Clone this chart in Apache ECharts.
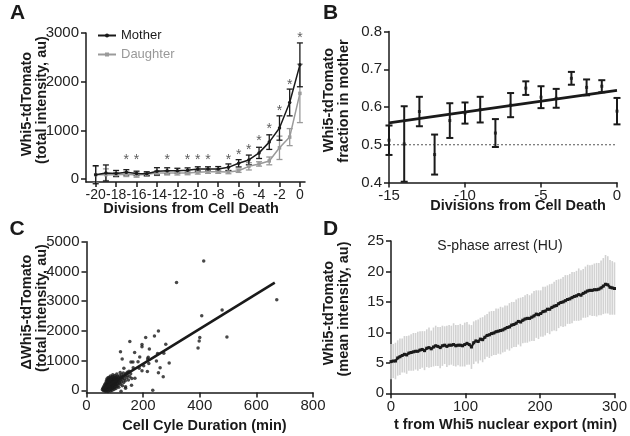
<!DOCTYPE html>
<html>
<head>
<meta charset="utf-8">
<script src="https://cdn.jsdelivr.net/npm/echarts@6/dist/echarts.min.js"></script>
<style>
html,body{margin:0;padding:0;background:#fff;}
#chart{width:630px;height:436px;}
</style>
</head>
<body>
<div id="chart"></div>
<script>
// ---------- Panel A ----------
const divisions = [-20,-19,-18,-17,-16,-15,-14,-13,-12,-11,-10,-9,-8,-7,-6,-5,-4,-3,-2,-1,0];
const motherMean = [90,124,117,138,117,110,159,172,172,180,207,207,207,241,324,393,538,759,1049,1573,2346];
const motherErr  = [186,166,60,55,45,40,75,60,50,50,45,45,50,70,75,100,115,150,250,275,450];
const daughterMean = [90,90,90,97,83,97,124,124,124,124,138,152,152,145,172,262,311,373,642,862,1760];
const daughterErr  = [170,120,45,45,45,35,50,40,40,35,35,35,35,35,35,75,45,80,240,175,600];
const starX = [-17,-16,-13,-11,-10,-9,-7,-6,-5,-4,-3,-2,-1,0];
const starY = [450,450,450,450,450,450,450,550,655,850,1090,1450,1990,2950];
const aTicksX = [-20,-18,-16,-14,-12,-10,-8,-6,-4,-2,0];
const aTicksY = [0,1000,2000,3000];

// ---------- Panel B ----------
const bDivisions = [-15,-14,-13,-12,-11,-10,-9,-8,-7,-6,-5,-4,-3,-2,-1,0];
const bFraction  = [0.512,0.502,0.588,0.474,0.564,0.584,0.593,0.531,0.605,0.650,0.626,0.623,0.676,0.652,0.655,0.589];
const bErr       = [0.039,0.100,0.039,0.053,0.046,0.028,0.034,0.037,0.032,0.018,0.029,0.025,0.017,0.021,0.016,0.035];
const bFitX = [-15, 0];
const bFitY = [0.558, 0.644];
const bRefY = 0.5;

// ---------- Panel C ----------
const cycleDuration = [
 414,318,672,479,407,496,400,398,394,254,240,209,153,196,196,222,280,120,170,126,188,157,164,273,251,247,292,216,220,260,254,271,215,196,171,234,138,159,132,144,165,202,186,182,218,
 56,58,60,60,62,63,64,65,65,66,67,68,68,69,70,70,
 71,71,72,72,73,73,74,74,75,75,76,76,77,77,78,78,79,79,80,80,
 80,81,82,82,83,83,84,84,85,85,86,86,87,87,88,88,89,89,90,90,
 91,91,92,92,93,93,94,94,95,95,96,96,97,97,98,98,99,99,100,100,
 101,102,102,103,104,104,105,105,106,107,108,108,109,110,110,111,112,113,114,114,
 116,117,118,119,120,121,122,123,124,126,127,128,130,131,133,135,137,138,139,142,145,148,150,153,156,160];
const deltaWhi5 = [
 4350,3630,3050,2700,2510,1795,1780,1660,1425,1995,1830,1775,1640,1545,1470,1390,1550,1300,1270,1055,1120,950,955,1245,1240,985,920,1055,905,760,595,460,630,660,405,0,70,170,740,605,760,830,740,960,1110,
 20,60,-10,110,40,150,0,80,200,-30,120,250,30,170,310,60,
 -20,220,100,380,160,280,20,340,90,200,420,-40,140,300,50,250,360,180,0,120,
 440,270,70,330,190,400,-20,230,110,480,300,40,160,370,250,80,420,200,-10,310,
 130,460,240,360,60,520,180,290,400,100,220,330,30,450,160,270,380,90,200,500,
 310,140,420,250,60,360,190,460,290,550,120,390,230,330,470,180,280,420,100,360,
 250,490,320,600,200,400,-30,290,520,360,150,440,580,260,380,480,320,120,560,420,500,350,640,460,560,400];
const cFitX = [55, 665];
const cFitY = [40, 3620];
const cTicksY = [0,1000,2000,3000,4000,5000];

// ---------- Panel D ----------
const tMin = [0,3,6,9,12,15,18,21,24,27,30,33,36,39,42,45,48,51,54,57,60,63,66,69,72,75,78,81,84,87,90,93,96,99,102,105,108,111,114,117,120,123,126,129,132,135,138,141,144,147,150,153,156,159,162,165,168,171,174,177,180,183,186,189,192,195,198,201,204,207,210,213,216,219,222,225,228,231,234,237,240,243,246,249,252,255,258,261,264,267,270,273,276,279,282,285,288,291,294,297,300];
const meanWhi5 = [
 5.2,5.3,5.3,5.8,6.0,6.2,6.4,6.3,6.6,6.7,
 6.8,6.9,6.9,7.1,7.2,7.0,7.4,7.5,7.3,7.6,
 7.8,7.7,7.5,7.8,7.9,7.7,7.9,7.9,8.0,7.8,
 7.9,7.9,7.8,8.0,8.2,8.0,7.6,8.3,8.6,8.5,
 8.9,8.8,9.2,9.5,9.6,9.8,9.9,10.1,10.2,10.3,
 10.4,10.6,10.8,10.9,11.2,11.3,11.5,11.8,11.7,12.0,
 12.2,12.3,12.3,12.5,12.7,13.0,12.9,13.1,13.4,13.5,
 13.8,13.8,14.1,14.3,14.4,14.7,14.9,15.0,15.2,15.4,
 15.5,15.7,15.9,16.0,16.2,16.1,16.4,16.6,16.8,16.9,
 16.9,17.0,17.0,17.1,17.3,17.6,17.9,17.8,17.4,17.3,
 17.2];
const sdWhi5 = [
 2.9,2.8,3.0,2.9,3.0,2.8,3.0,3.1,2.9,3.0,3.1,
 3.0,3.2,3.1,3.0,3.2,3.1,3.3,3.0,3.2,3.3,
 3.2,3.4,3.3,3.1,3.4,3.3,3.2,3.5,3.4,3.3,
 3.5,3.4,3.6,3.5,3.3,3.6,3.5,3.4,3.6,3.5,
 3.7,3.6,3.5,3.8,3.7,3.6,3.8,3.7,3.9,3.7,
 3.8,3.6,3.9,3.8,3.7,3.9,3.8,4.0,3.8,3.9,
 4.0,3.8,3.9,4.1,3.9,4.0,3.8,4.1,4.0,3.9,
 4.1,3.9,4.0,4.2,4.0,3.9,4.1,4.2,4.0,4.1,
 4.2,4.0,4.1,4.3,4.1,4.0,4.2,4.3,4.1,4.2,
 4.3,4.4,4.3,4.5,4.6,4.8,4.7,4.5,4.4,4.3];

// ---------- helpers ----------
const FONT = "'Liberation Sans', Arial, Helvetica, sans-serif";
const INK = '#1a1a1a';

function errBarSeries(name, xi, yi, data, color, width, cap) {
  return {
    type: 'custom', name: name, xAxisIndex: xi, yAxisIndex: yi, clip: false, z: 3,
    data: data,
    encode: { x: 0, y: [1, 2] },
    renderItem: function (params, api) {
      const x = api.value(0), lo = api.value(1), hi = api.value(2);
      const p1 = api.coord([x, lo]), p2 = api.coord([x, hi]);
      const kids = [{ type: 'line', shape: { x1: p1[0], y1: p1[1], x2: p2[0], y2: p2[1] }, style: { stroke: color, lineWidth: width } }];
      if (cap > 0) {
        kids.push({ type: 'line', shape: { x1: p1[0]-cap, y1: p1[1], x2: p1[0]+cap, y2: p1[1] }, style: { stroke: color, lineWidth: width } });
        kids.push({ type: 'line', shape: { x1: p2[0]-cap, y1: p2[1], x2: p2[0]+cap, y2: p2[1] }, style: { stroke: color, lineWidth: width } });
      }
      return { type: 'group', children: kids };
    }
  };
}

function lbl(margin, extra) {
  return Object.assign({ color: '#222', fontSize: 15, fontFamily: FONT, margin: margin,
    showMinLabel: true, showMaxLabel: true, hideOverlap: false,
    formatter: v => String(v) }, extra || {});
}

function axisBase(extra) {
  return Object.assign({
    type: 'value',
    splitLine: { show: false },
    axisLine: { show: true, onZero: false, lineStyle: { color: INK, width: 1.5 } },
    axisTick: { show: true, length: 5, lineStyle: { color: INK, width: 1.5 } },
    axisLabel: lbl(7)
  }, extra);
}

function txt(text, x, y, size, bold, rot, color) {
  return {
    type: 'text', x: x, y: y, rotation: rot || 0,
    style: { text: text, fontSize: size, fontWeight: bold ? 'bold' : 'normal', fontFamily: FONT, fill: color || '#1a1a1a', align: 'center', verticalAlign: 'middle' }
  };
}

const R = Math.PI / 2;

const chart = echarts.init(document.getElementById('chart'), null, { renderer: 'canvas' });

const option = {
  backgroundColor: '#fff',
  animation: false,
  grid: [
    { left: 86, top: 33, width: 219, height: 149 },
    { left: 389, top: 31.5, width: 228, height: 151 },
    { left: 86.5, top: 241.7, width: 226.5, height: 150.7 },
    { left: 391, top: 241, width: 226.3, height: 152.3 }
  ],
  xAxis: [
    axisBase({ gridIndex: 0, min: -20.95, max: 0.5,
      axisTick: { show: true, length: 5, customValues: aTicksX, lineStyle: { color: INK, width: 1.5 } },
      axisLabel: lbl(6, { customValues: aTicksX, fontSize: 14 }) }),
    axisBase({ gridIndex: 1, min: -15, max: 0, interval: 5, axisLabel: lbl(6) }),
    axisBase({ gridIndex: 2, min: 0, max: 800, interval: 200, axisLabel: lbl(6) }),
    axisBase({ gridIndex: 3, min: 0, max: 300, interval: 100, axisLabel: lbl(6) })
  ],
  yAxis: [
    axisBase({ gridIndex: 0, min: -60, max: 3000,
      axisTick: { show: true, length: 5, customValues: aTicksY, lineStyle: { color: INK, width: 1.5 } },
      axisLabel: lbl(7, { customValues: aTicksY }) }),
    axisBase({ gridIndex: 1, min: 0.4, max: 0.8, interval: 0.1, axisLabel: lbl(7, { formatter: v => v.toFixed(1) }) }),
    axisBase({ gridIndex: 2, min: -70, max: 5000,
      axisTick: { show: true, length: 5, customValues: cTicksY, lineStyle: { color: INK, width: 1.5 } },
      axisLabel: lbl(7, { customValues: cTicksY }) }),
    axisBase({ gridIndex: 3, min: 0, max: 25, interval: 5 })
  ],
  legend: {
    left: 97, top: 29, orient: 'vertical', itemWidth: 18, itemHeight: 5, itemGap: 6, padding: 0,
    textStyle: { fontSize: 13, fontFamily: FONT },
    data: [
      { name: 'Mother', textStyle: { color: '#1a1a1a' } },
      { name: 'Daughter', textStyle: { color: '#999' } }
    ]
  },
  series: [
    // Panel A
    errBarSeries('dErr', 0, 0, divisions.map((d, i) => [d, daughterMean[i] - daughterErr[i], daughterMean[i] + daughterErr[i]]), '#9a9a9a', 1.3, 3),
    { type: 'line', name: 'Daughter', xAxisIndex: 0, yAxisIndex: 0, z: 4,
      data: divisions.map((d, i) => [d, daughterMean[i]]),
      symbol: 'rect', symbolSize: 3.5, showSymbol: true,
      lineStyle: { color: '#9a9a9a', width: 1.5 }, itemStyle: { color: '#9a9a9a' } },
    errBarSeries('mErr', 0, 0, divisions.map((d, i) => [d, motherMean[i] - motherErr[i], motherMean[i] + motherErr[i]]), INK, 1.3, 3),
    { type: 'line', name: 'Mother', xAxisIndex: 0, yAxisIndex: 0, z: 5,
      data: divisions.map((d, i) => [d, motherMean[i]]),
      symbol: 'circle', symbolSize: 3.5, showSymbol: true,
      lineStyle: { color: INK, width: 1.5 }, itemStyle: { color: INK } },
    { type: 'scatter', name: 'stars', xAxisIndex: 0, yAxisIndex: 0, z: 6,
      data: starX.map((x, i) => [x, starY[i]]),
      symbolSize: 1, itemStyle: { color: 'rgba(0,0,0,0)' },
      label: { show: true, formatter: '*', position: 'inside', offset: [0, 3], fontSize: 14, fontFamily: FONT, color: '#333' } },

    // Panel B
    { type: 'line', name: 'ref', xAxisIndex: 1, yAxisIndex: 1, z: 2,
      data: bFitX.map(x => [x, bRefY]), symbol: 'none',
      lineStyle: { color: '#555', width: 1, type: [2, 2] } },
    errBarSeries('bErr', 1, 1, bDivisions.map((d, i) => [d, bFraction[i] - bErr[i], bFraction[i] + bErr[i]]), INK, 2, 3.5),
    { type: 'scatter', name: 'bPts', xAxisIndex: 1, yAxisIndex: 1, z: 4,
      data: bDivisions.map((d, i) => [d, bFraction[i]]), symbol: 'rect', symbolSize: 3, itemStyle: { color: INK } },
    { type: 'line', name: 'bFit', xAxisIndex: 1, yAxisIndex: 1, z: 5,
      data: bFitX.map((x, i) => [x, bFitY[i]]), symbol: 'none',
      lineStyle: { color: INK, width: 2.8 } },

    // Panel C
    { type: 'scatter', name: 'cPts', xAxisIndex: 2, yAxisIndex: 2, z: 3,
      data: cycleDuration.map((x, i) => [x, deltaWhi5[i]]), symbolSize: 3.5, itemStyle: { color: INK } },
    { type: 'line', name: 'cFit', xAxisIndex: 2, yAxisIndex: 2, z: 4,
      data: cFitX.map((x, i) => [x, cFitY[i]]), symbol: 'none',
      lineStyle: { color: INK, width: 2.6 } },

    // Panel D
    errBarSeries('dSd', 3, 3, tMin.map((t, i) => [t, meanWhi5[i] - sdWhi5[i], meanWhi5[i] + sdWhi5[i]]), '#d2d2d2', 1.6, 0),
    { type: 'line', name: 'dMean', xAxisIndex: 3, yAxisIndex: 3, z: 4,
      data: tMin.map((t, i) => [t, meanWhi5[i]]), symbol: 'rect', symbolSize: 3, showSymbol: true,
      lineStyle: { color: INK, width: 2.2 }, itemStyle: { color: INK } }
  ],
  graphic: [
    txt('A', 17.5, 13, 21, true),
    txt('B', 330.5, 13, 21, true),
    txt('C', 17, 229, 21, true),
    txt('D', 330.5, 229, 21, true),
    // y titles
    txt('Whi5-tdTomato', 27, 104, 14.5, true, R),
    txt('(total intensity, au)', 42, 100, 14.5, true, R),
    txt('Whi5-tdTomato', 329, 100, 14.5, true, R),
    txt('fraction in mother', 343.5, 101, 14.5, true, R),
    txt('\u0394Whi5-tdTomato', 27, 312, 14.5, true, R),
    txt('(total intensity, au)', 42, 308, 14.5, true, R),
    txt('Whi5-tdTomato', 329, 313, 14.5, true, R),
    txt('(mean intensity, au)', 344, 309, 14.5, true, R),
    // x titles
    txt('Divisions from Cell Death', 191, 208.5, 14.5, true),
    txt('Divisions from Cell Death', 518, 206, 14.5, true),
    txt('Cell Cyle Duration (min)', 204.5, 425.5, 14.5, true),
    txt('t from Whi5 nuclear export (min)', 505.5, 424.5, 14.5, true),
    // annotation
    txt('S-phase arrest (HU)', 500, 246, 14, false, 0, '#222')
  ]
};

chart.setOption(option);
</script>
</body>
</html>
